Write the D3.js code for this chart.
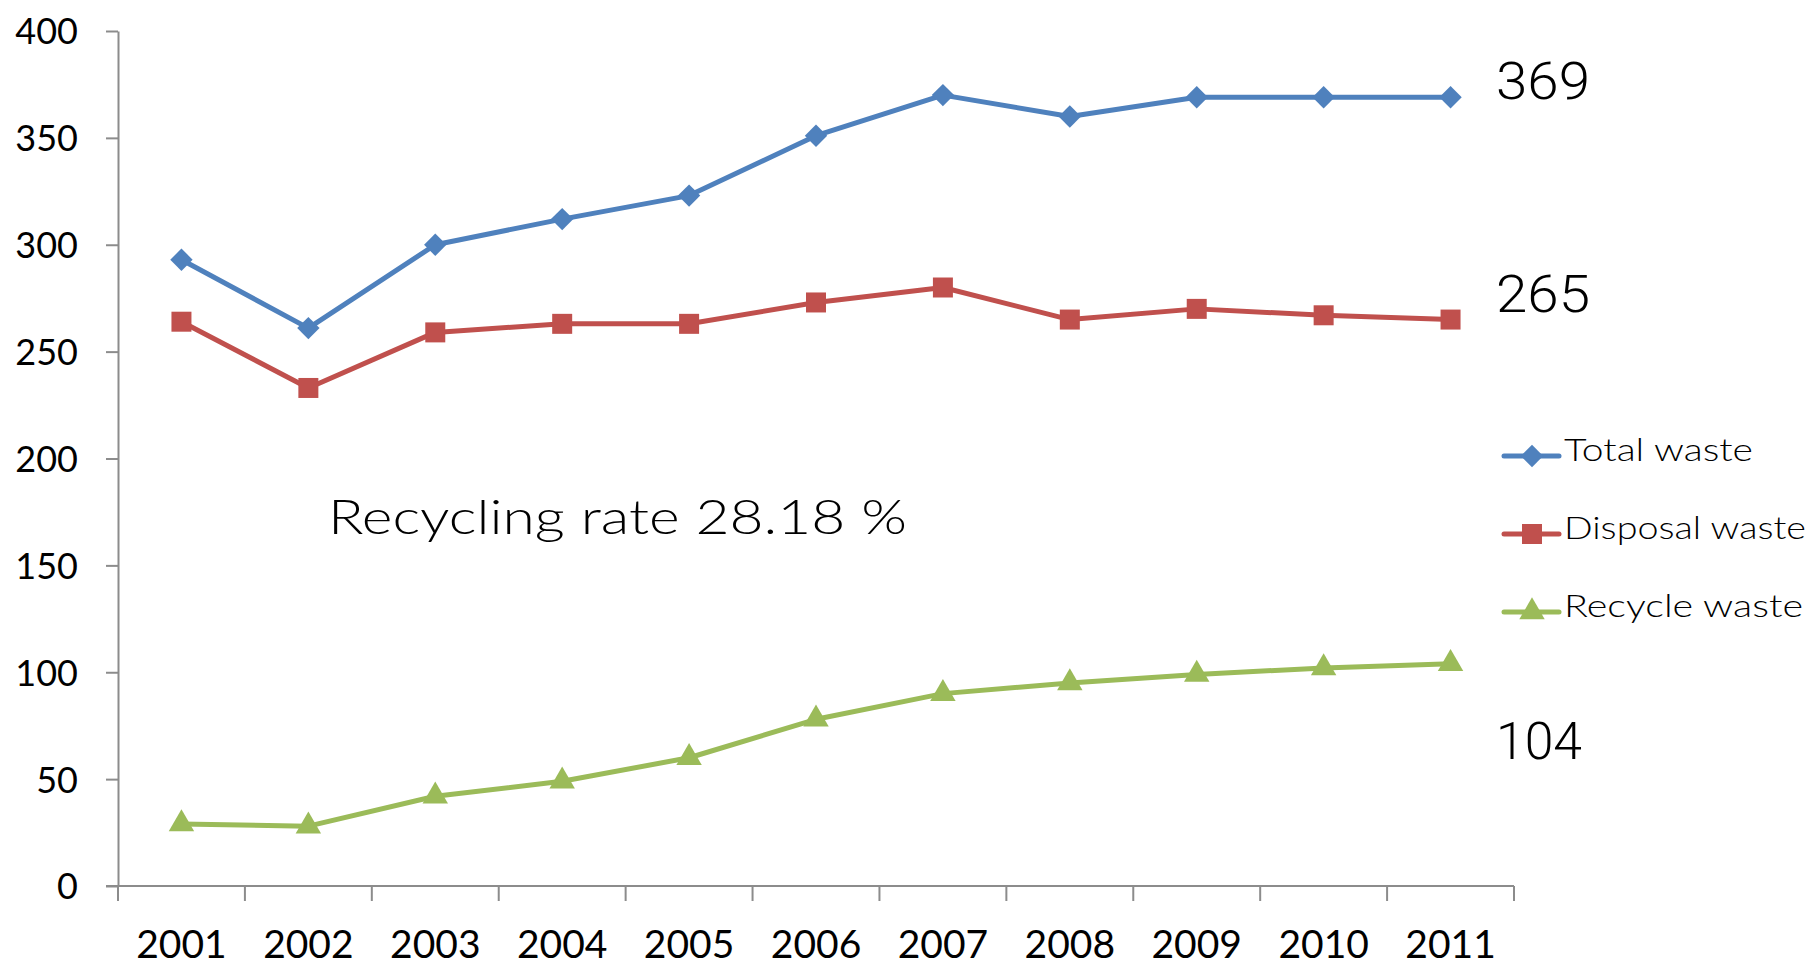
<!DOCTYPE html>
<html lang="en">
  <head>
    <meta charset="UTF-8" />
    <title>Waste trend</title>
    <script src="https://d3js.org/d3.v7.min.js"></script>
    <style>
      body { margin: 0; background: #fff; }
      .axis path, .axis line { stroke: #8c8c8c; stroke-width: 2; }
      .axis text { fill: #000; font-family: Lato, "Open Sans", sans-serif; }
    </style>
  </head>
  <body>
    <svg id="chart" width="1812" height="967"></svg>
    <script>
      const years = ["2001", "2002", "2003", "2004", "2005", "2006", "2007", "2008", "2009", "2010", "2011"];
      const totalWaste = [293, 261, 300, 312, 323, 351, 370, 360, 369, 369, 369];
      const disposalWaste = [264, 233, 259, 263, 263, 273, 280, 265, 270, 267, 265];
      const recycleWaste = [29, 28, 42, 49, 60, 78, 90, 95, 99, 102, 104];
      const yTicks = [0, 50, 100, 150, 200, 250, 300, 350, 400];
      const seriesNames = ["Total waste", "Disposal waste", "Recycle waste"];
      const endLabels = ["369", "265", "104"];
      const endValues = [369, 265, 104];
      const note = "Recycling rate 28.18 %";

      const svg = d3.select("svg#chart");
      const margin = { top: 31, left: 118, bottom: 81, right: 298 };
      const width = +svg.attr("width");
      const height = +svg.attr("height");

      const xScale = d3.scaleBand()
        .domain(years)
        .range([margin.left, width - margin.right]);
      const yScale = d3.scaleLinear()
        .domain([0, 400])
        .range([height - margin.bottom, margin.top]);

      // axes
      svg.append("g")
        .attr("class", "axis")
        .attr("transform", `translate(${margin.left},0)`)
        .call(d3.axisLeft(yScale).tickValues(yTicks).tickSize(12).tickPadding(28).tickSizeOuter(0))
        .selectAll("text").style("font-size", "36px").attr("dy", "0.36em");

      const xAxis = svg.append("g")
        .attr("class", "axis")
        .attr("transform", `translate(0,${height - margin.bottom})`)
        .call(d3.axisBottom(xScale).tickSize(0).tickPadding(44).tickSizeOuter(0));
      xAxis.selectAll("text").style("font-size", "39px");
      // ticks at the category boundaries
      const bounds = years.map(d => xScale(d)).concat([xScale.range()[1]]);
      xAxis.selectAll("line.bound").data(bounds).join("line")
        .attr("class", "bound")
        .attr("x1", d => d).attr("x2", d => d)
        .attr("y1", 0).attr("y2", 15);
      xAxis.select(".domain").attr("d", `M${margin.left - 12},0H${xScale.range()[1]}`);

      const series = [
        { name: seriesNames[0], values: totalWaste, color: "#4f81bd", symbol: d3.symbolSquare, size: 250, rot: 45 },
        { name: seriesNames[1], values: disposalWaste, color: "#c0504d", symbol: d3.symbolSquare, size: 400, rot: 0 },
        { name: seriesNames[2], values: recycleWaste, color: "#9bbb59", symbol: d3.symbolTriangle, size: 280, rot: 0 }
      ];

      const cx = d => xScale(d) + xScale.bandwidth() / 2;
      const line = d3.line()
        .x((v, i) => cx(years[i]))
        .y(v => yScale(v));

      series.forEach(s => {
        svg.append("path")
          .datum(s.values)
          .attr("fill", "none")
          .attr("stroke", s.color)
          .attr("stroke-width", 5)
          .attr("stroke-linejoin", "round")
          .attr("d", line);

        svg.append("g").selectAll("path").data(s.values).join("path")
          .attr("d", d3.symbol().type(s.symbol).size(s.size))
          .attr("transform", (v, i) => `translate(${cx(years[i])},${yScale(v)}) rotate(${s.rot})`)
          .attr("fill", s.color);
      });

      // end value labels
      const lastX = xScale.range()[1] - 18;
      const labelShift = [2, -8, 95];
      const labelWidths = [94, 94, 86];
      endLabels.forEach((t, i) => {
        svg.append("text")
          .attr("x", lastX)
          .attr("y", yScale(endValues[i]) + labelShift[i])
          .attr("textLength", labelWidths[i])
          .attr("lengthAdjust", "spacingAndGlyphs")
          .style("font-family", "Roboto, 'Liberation Sans', sans-serif")
          .style("font-weight", 300)
          .style("font-size", "51px")
          .text(t);
      });

      // recycling note
      svg.append("text")
        .attr("x", 328)
        .attr("y", 534)
        .attr("textLength", 579)
        .attr("lengthAdjust", "spacingAndGlyphs")
        .style("font-family", "Lato, 'Open Sans', sans-serif")
        .style("font-weight", 300)
        .style("font-size", "48px")
        .text(note);

      // legend
      const legend = svg.append("g").attr("transform", "translate(1504,456)");
      const legendWidths = [189, 242, 239];
      series.forEach((s, i) => {
        const g = legend.append("g").attr("transform", `translate(0,${i * 78})`);
        g.append("line")
          .attr("x1", 0).attr("x2", 55)
          .attr("stroke", s.color)
          .attr("stroke-width", 5)
          .attr("stroke-linecap", "round");
        g.append("path")
          .attr("d", d3.symbol().type(s.symbol).size(s.size))
          .attr("transform", `translate(28,0) rotate(${s.rot})`)
          .attr("fill", s.color);
        g.append("text")
          .attr("x", 60)
          .attr("y", 5)
          .attr("textLength", legendWidths[i])
          .attr("lengthAdjust", "spacingAndGlyphs")
          .style("font-family", "Lato, 'Open Sans', sans-serif")
          .style("font-weight", 300)
          .style("font-size", "32px")
          .text(s.name);
      });
    </script>
  </body>
</html>
